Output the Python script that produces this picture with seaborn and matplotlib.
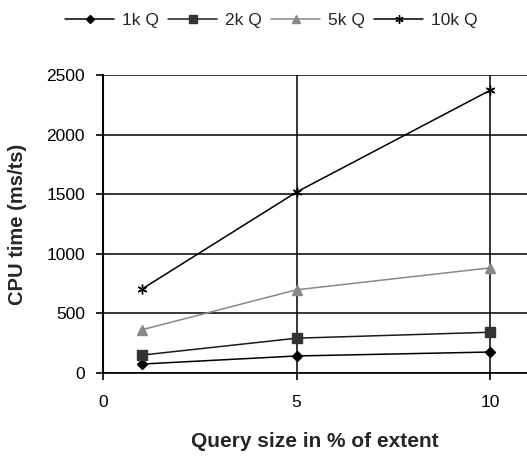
import matplotlib
matplotlib.use("Agg")
import matplotlib.pyplot as plt
import seaborn as sns
import pandas as pd

query_size = [1, 5, 10]
cpu_1k = [75, 143, 176]
cpu_2k = [150, 292, 342]
cpu_5k = [362, 698, 882]
cpu_10k = [703, 1518, 2372]
series_labels = ["1k Q", "2k Q", "5k Q", "10k Q"]
y_ticks = [0, 500, 1000, 1500, 2000, 2500]
x_ticks = [0, 5, 10]

sns.set_theme(style="white")
plt.rcParams["font.family"] = ["Liberation Sans", "DejaVu Sans"]

df = pd.concat([
    pd.DataFrame({"x": query_size, "y": vals, "series": lab})
    for vals, lab in zip([cpu_1k, cpu_2k, cpu_5k, cpu_10k], series_labels)
])

fig = plt.figure(figsize=(5.27, 4.57), dpi=100)
ax = fig.add_axes([0.1954, 0.1838, 0.8046, 0.6521])

styles = {
    "1k Q": dict(color="black", marker="D", face="black", ms=5),
    "2k Q": dict(color="#1a1a1a", marker="s", face="#333333", ms=6.5),
    "5k Q": dict(color="#888888", marker="^", face="#888888", ms=7),
    "10k Q": dict(color="black", marker=(6, 2, 0), face="black", ms=7),
}
for lab in series_labels:
    st = styles[lab]
    sns.lineplot(data=df[df["series"] == lab], x="x", y="y", ax=ax,
                 color=st["color"], marker=st["marker"], markersize=st["ms"],
                 markerfacecolor=st["face"], markeredgecolor=st["face"],
                 markeredgewidth=1, linewidth=1.1, label=lab)

ax.set_xlim(0, 10.95)
ax.set_ylim(0, 2500)
ax.set_xticks(x_ticks)
ax.set_yticks(y_ticks)
ax.grid(True, color="black", linewidth=1.1)
ax.set_axisbelow(True)
for s in ["top", "right"]:
    ax.spines[s].set_visible(False)
ax.spines["left"].set_color("black")
ax.spines["bottom"].set_color("black")
ax.spines["left"].set_linewidth(1.5)
ax.spines["bottom"].set_linewidth(1.2)
ax.tick_params(axis="both", direction="out", length=5, width=1.2, color="black",
               labelsize=12.5, labelcolor="black", left=True, bottom=True)
ax.tick_params(axis="y", pad=8)
ax.tick_params(axis="x", pad=11)
ax.set_xlabel("Query size in % of extent", fontsize=15, fontweight="bold", labelpad=16)
ax.set_ylabel("CPU time (ms/ts)", fontsize=14.5, fontweight="bold", labelpad=14)

leg = ax.legend(loc="center", bbox_to_anchor=(0.515, 0.956), bbox_transform=fig.transFigure,
                ncol=4, frameon=False, fontsize=12.5, handlelength=2.8, columnspacing=0.56,
                handletextpad=0.45, markerscale=0.85)

fig.savefig("out.png", dpi=100)
